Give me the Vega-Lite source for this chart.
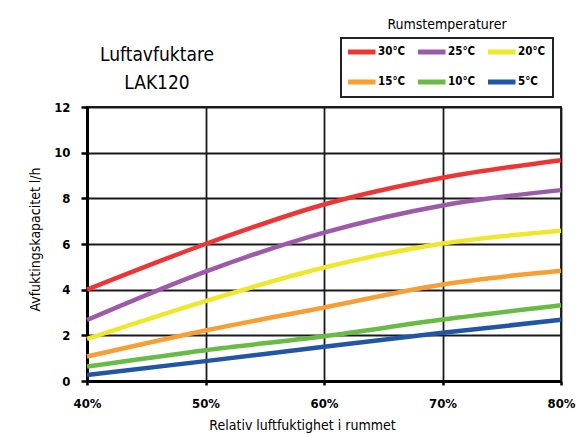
{
  "$schema": "https://vega.github.io/schema/vega-lite/v6.json",
  "width": 474,
  "height": 274,
  "autosize": {"type": "none"},
  "padding": {"left": 87, "top": 107, "right": 16, "bottom": 56},
  "background": "#ffffff",
  "title": {
    "text": "Luftavfuktare",
    "subtitle": "LAK120",
    "anchor": "middle",
    "frame": "group",
    "dx": -167,
    "offset": -56,
    "font": "DejaVu Sans Condensed",
    "fontSize": 19,
    "fontWeight": "normal",
    "color": "#000000",
    "subtitleFont": "DejaVu Sans Condensed",
    "subtitleFontSize": 19,
    "subtitleColor": "#000000",
    "subtitlePadding": 9
  },
  "data": {
    "values": [
      {"rh": 40, "cap": 4.0, "temp": "30°C"},
      {"rh": 50, "cap": 6.0, "temp": "30°C"},
      {"rh": 60, "cap": 7.73, "temp": "30°C"},
      {"rh": 70, "cap": 8.9, "temp": "30°C"},
      {"rh": 80, "cap": 9.67, "temp": "30°C"},
      {"rh": 40, "cap": 2.67, "temp": "25°C"},
      {"rh": 50, "cap": 4.79, "temp": "25°C"},
      {"rh": 60, "cap": 6.5, "temp": "25°C"},
      {"rh": 70, "cap": 7.69, "temp": "25°C"},
      {"rh": 80, "cap": 8.36, "temp": "25°C"},
      {"rh": 40, "cap": 1.84, "temp": "20°C"},
      {"rh": 50, "cap": 3.5, "temp": "20°C"},
      {"rh": 60, "cap": 4.97, "temp": "20°C"},
      {"rh": 70, "cap": 6.02, "temp": "20°C"},
      {"rh": 80, "cap": 6.58, "temp": "20°C"},
      {"rh": 40, "cap": 1.07, "temp": "15°C"},
      {"rh": 50, "cap": 2.21, "temp": "15°C"},
      {"rh": 60, "cap": 3.22, "temp": "15°C"},
      {"rh": 70, "cap": 4.23, "temp": "15°C"},
      {"rh": 80, "cap": 4.83, "temp": "15°C"},
      {"rh": 40, "cap": 0.63, "temp": "10°C"},
      {"rh": 50, "cap": 1.35, "temp": "10°C"},
      {"rh": 60, "cap": 1.96, "temp": "10°C"},
      {"rh": 70, "cap": 2.69, "temp": "10°C"},
      {"rh": 80, "cap": 3.32, "temp": "10°C"},
      {"rh": 40, "cap": 0.26, "temp": "5°C"},
      {"rh": 50, "cap": 0.87, "temp": "5°C"},
      {"rh": 60, "cap": 1.5, "temp": "5°C"},
      {"rh": 70, "cap": 2.11, "temp": "5°C"},
      {"rh": 80, "cap": 2.68, "temp": "5°C"}
    ]
  },
  "mark": {"type": "line", "strokeWidth": 4.5, "interpolate": "monotone", "strokeCap": "butt"},
  "encoding": {
    "x": {
      "field": "rh",
      "type": "quantitative",
      "scale": {"domain": [40, 80], "nice": false},
      "axis": {
        "values": [40, 50, 60, 70, 80],
        "labelExpr": "datum.value + '%'",
        "title": "Relativ luftfuktighet i rummet",
        "titleX": 215,
        "titleY": 48,
        "titleBaseline": "alphabetic",
        "tickSize": 4,
        "labelPadding": 12,
        "labelFlush": false
      }
    },
    "y": {
      "field": "cap",
      "type": "quantitative",
      "scale": {"domain": [0, 12], "nice": false},
      "axis": {
        "values": [0, 2, 4, 6, 8, 10, 12],
        "title": "Avfuktingskapacitet l/h",
        "titleX": -52,
        "titleY": 132,
        "titleBaseline": "middle",
        "titleAlign": "center",
        "tickSize": 6,
        "labelPadding": 11
      }
    },
    "color": {
      "field": "temp",
      "type": "nominal",
      "scale": {
        "domain": ["30°C", "25°C", "20°C", "15°C", "10°C", "5°C"],
        "range": ["#EE3536", "#9D5AA8", "#EEE72B", "#F79E35", "#68BC45", "#2156A5"]
      },
      "legend": {
        "orient": "none",
        "legendX": 254,
        "legendY": -69,
        "columns": 3,
        "direction": "horizontal",
        "gridAlign": "all",
        "symbolType": "stroke",
        "symbolSize": 2025,
        "symbolStrokeWidth": 5,
        "symbolOffset": -20,
        "clipHeight": 16,
        "rowPadding": 14,
        "columnPadding": 12,
        "labelOffset": 0,
        "labelFont": "DejaVu Sans Condensed",
        "labelFontSize": 11.5,
        "labelFontWeight": "bold",
        "labelColor": "#000000",
        "padding": 7,
        "strokeColor": "#222222",
        "title": "Rumstemperaturer",
        "titleFont": "DejaVu Sans Condensed",
        "titleFontSize": 14,
        "titleFontWeight": "normal",
        "titleColor": "#000000",
        "titleAnchor": "middle",
        "titlePadding": -15,
        "encode": {
          "title": {"update": {"dy": {"value": -27}}},
          "legend": {"update": {"strokeWidth": {"value": 2}}}
        }
      }
    }
  },
  "config": {
    "font": "DejaVu Sans Condensed",
    "view": {"stroke": "#1a1a1a", "strokeWidth": 1.8},
    "axis": {
      "domainColor": "#000000",
      "domainWidth": 3,
      "gridColor": "#1a1a1a",
      "gridWidth": 1.8,
      "gridOpacity": 1,
      "tickColor": "#000000",
      "tickWidth": 2.5,
      "labelColor": "#000000",
      "labelFont": "DejaVu Sans Condensed",
      "labelFontSize": 13,
      "labelFontWeight": "bold",
      "titleColor": "#000000",
      "titleFont": "DejaVu Sans Condensed",
      "titleFontSize": 14,
      "titleFontWeight": "normal"
    }
  }
}
